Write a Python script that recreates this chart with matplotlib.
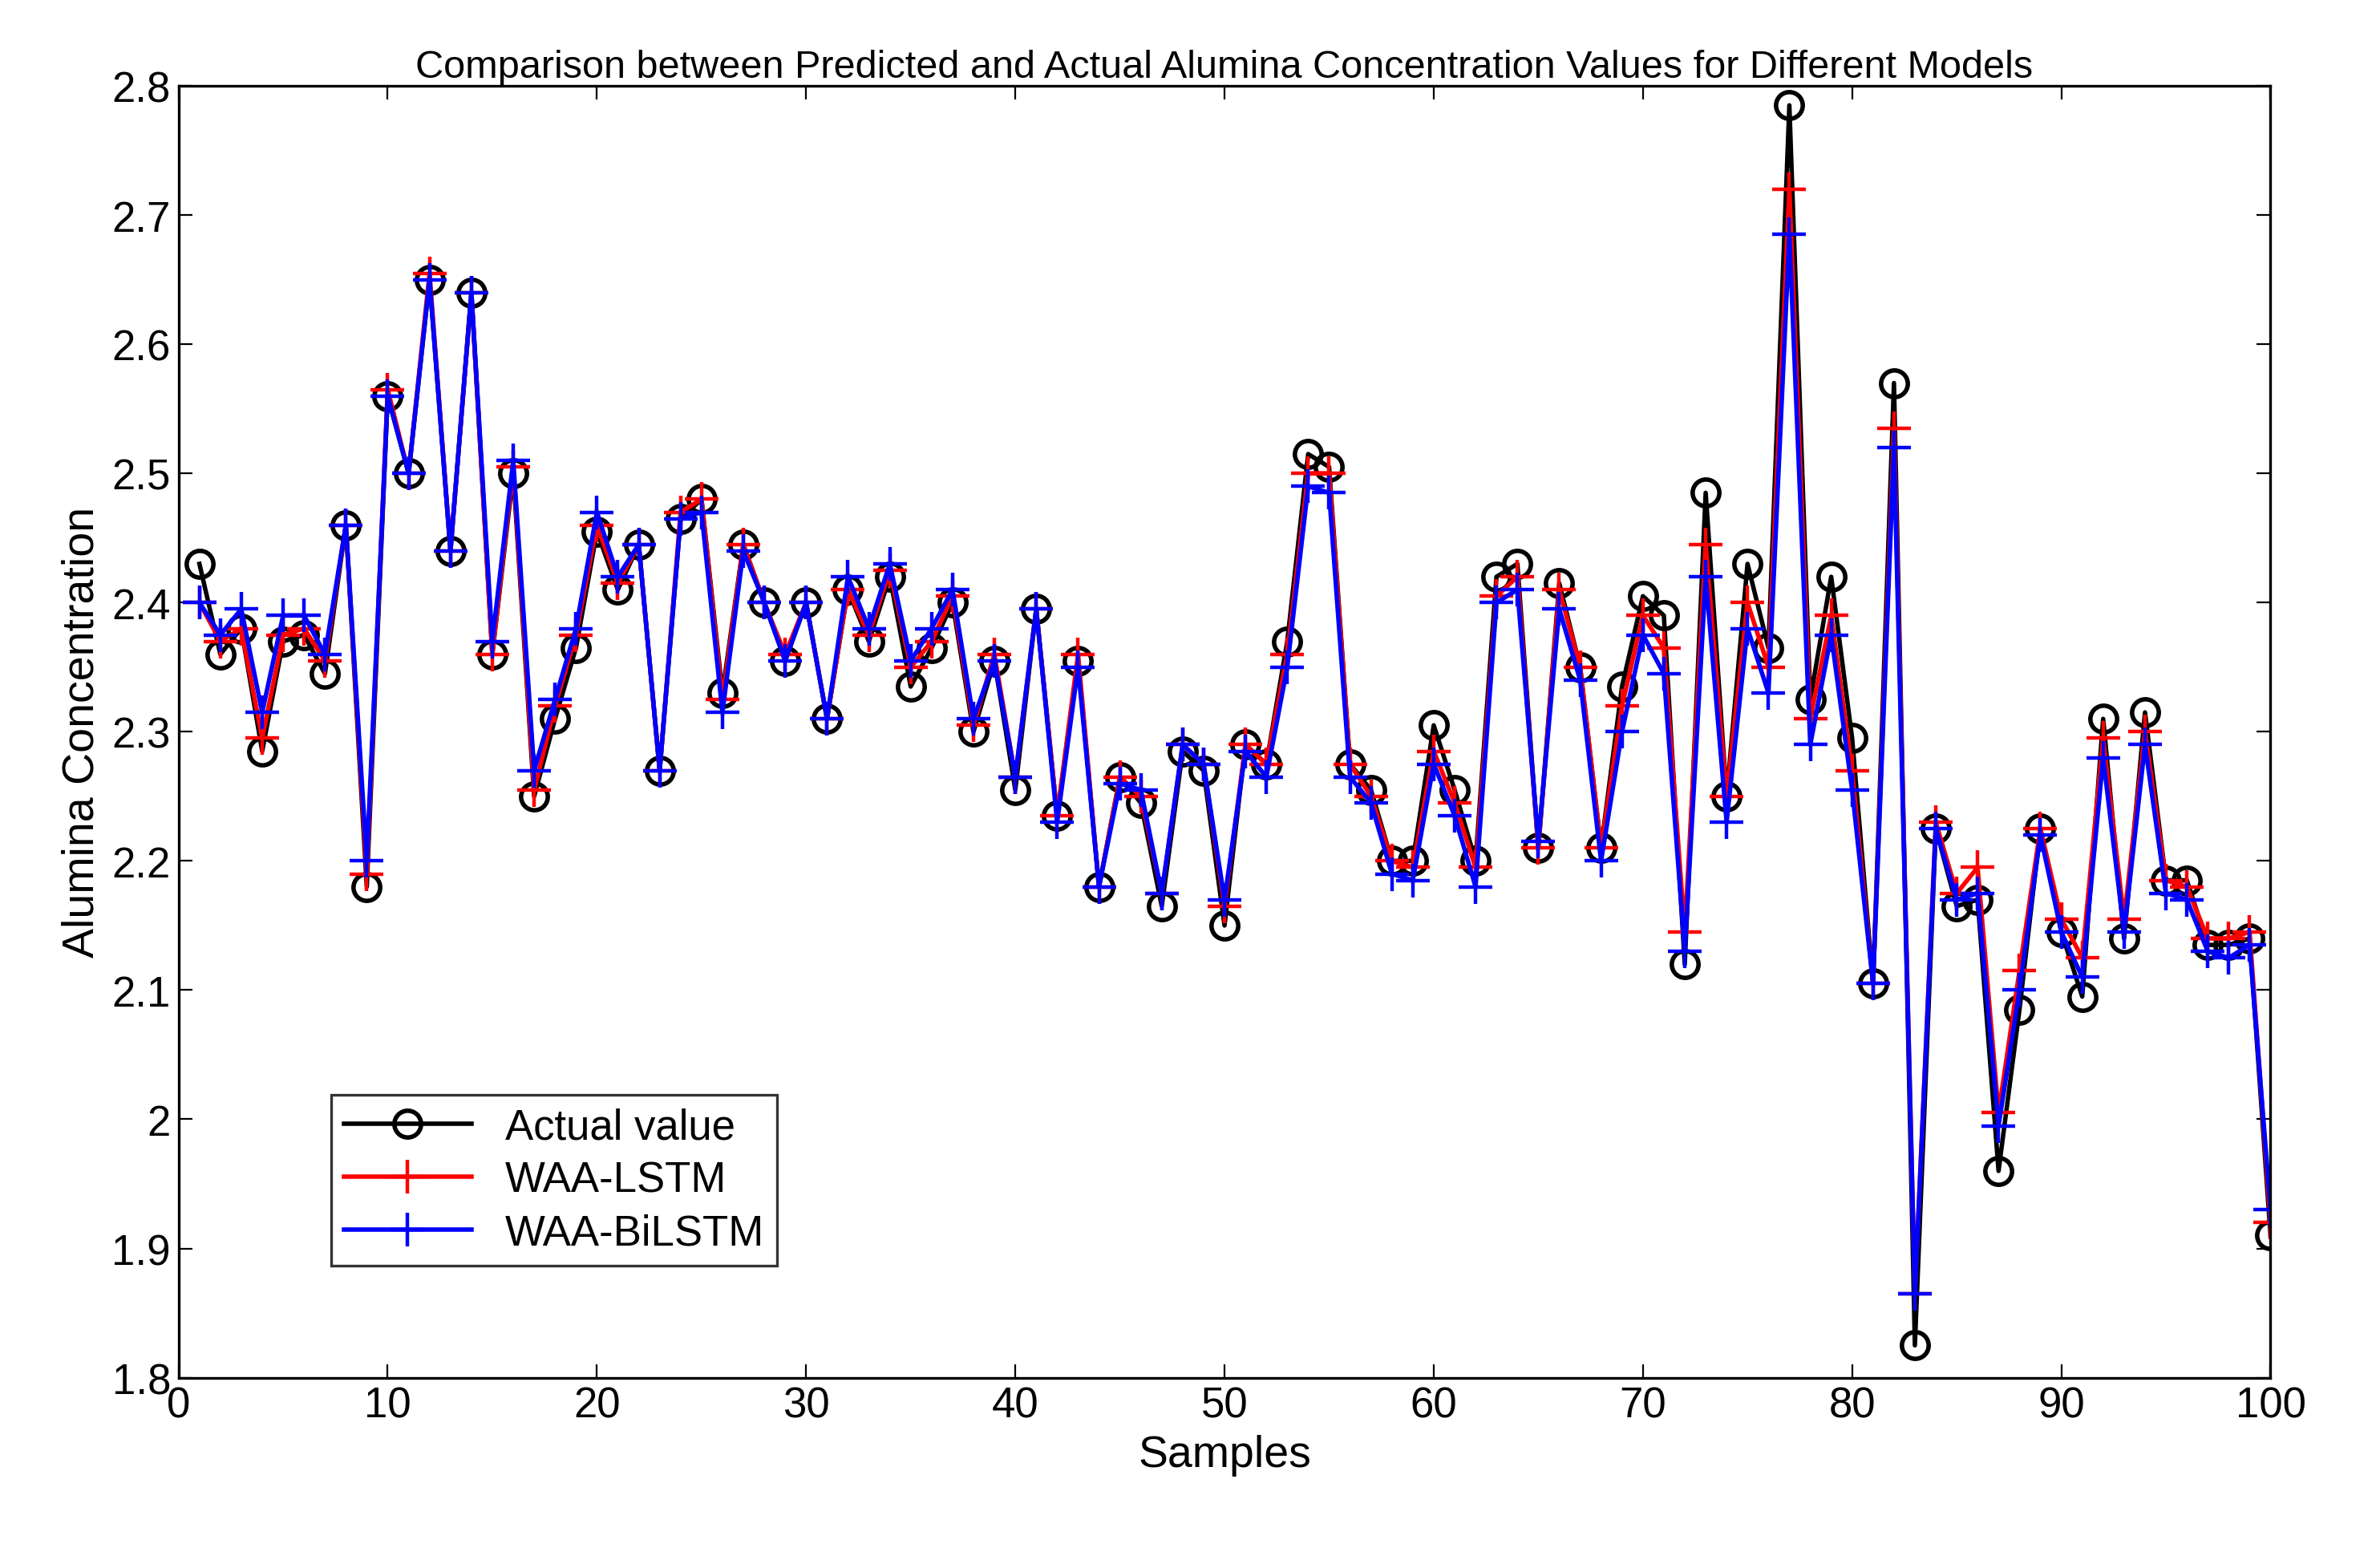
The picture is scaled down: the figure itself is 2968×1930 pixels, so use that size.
import matplotlib
matplotlib.use("Agg")
import matplotlib.pyplot as plt
import numpy as np

plt.rcParams["font.family"] = "Liberation Sans"

# 样本编号
samples = np.arange(1, 101)

# 实际值
actual = [2.43, 2.36, 2.38, 2.285, 2.37, 2.375, 2.345, 2.46, 2.18, 2.56,
          2.50, 2.65, 2.44, 2.64, 2.36, 2.50, 2.25, 2.31, 2.365, 2.455,
          2.41, 2.445, 2.27, 2.465, 2.48, 2.33, 2.445, 2.40, 2.355, 2.40,
          2.31, 2.41, 2.37, 2.42, 2.335, 2.365, 2.40, 2.30, 2.355, 2.255,
          2.395, 2.235, 2.355, 2.18, 2.265, 2.245, 2.165, 2.285, 2.27, 2.15,
          2.29, 2.275, 2.37, 2.515, 2.505, 2.275, 2.255, 2.20, 2.20, 2.305,
          2.255, 2.20, 2.42, 2.43, 2.21, 2.415, 2.35, 2.21, 2.335, 2.405,
          2.39, 2.12, 2.485, 2.25, 2.43, 2.365, 2.785, 2.325, 2.42, 2.295,
          2.105, 2.57, 1.825, 2.225, 2.165, 2.17, 1.96, 2.085, 2.225, 2.145,
          2.095, 2.31, 2.14, 2.315, 2.185, 2.185, 2.135, 2.135, 2.14, 1.91]

# WAA-LSTM 预测值
lstm = [2.40, 2.37, 2.38, 2.295, 2.375, 2.38, 2.355, 2.46, 2.19, 2.565,
        2.50, 2.655, 2.44, 2.64, 2.36, 2.505, 2.255, 2.32, 2.375, 2.46,
        2.415, 2.445, 2.27, 2.47, 2.48, 2.325, 2.445, 2.40, 2.36, 2.40,
        2.31, 2.41, 2.375, 2.425, 2.35, 2.37, 2.405, 2.305, 2.36, 2.265,
        2.395, 2.235, 2.36, 2.18, 2.265, 2.25, 2.175, 2.29, 2.275, 2.165,
        2.29, 2.275, 2.36, 2.50, 2.50, 2.275, 2.25, 2.20, 2.195, 2.285,
        2.245, 2.195, 2.405, 2.42, 2.21, 2.41, 2.35, 2.21, 2.32, 2.39,
        2.365, 2.145, 2.445, 2.25, 2.40, 2.35, 2.72, 2.31, 2.39, 2.27,
        2.105, 2.535, 1.865, 2.23, 2.175, 2.195, 2.005, 2.115, 2.225, 2.155,
        2.125, 2.295, 2.155, 2.30, 2.185, 2.18, 2.14, 2.14, 2.145, 1.92]

# WAA-BiLSTM 预测值
bilstm = [2.40, 2.375, 2.395, 2.315, 2.39, 2.39, 2.36, 2.46, 2.20, 2.56,
          2.50, 2.65, 2.44, 2.64, 2.37, 2.51, 2.27, 2.325, 2.38, 2.47,
          2.42, 2.445, 2.27, 2.465, 2.47, 2.315, 2.44, 2.40, 2.355, 2.40,
          2.31, 2.42, 2.38, 2.43, 2.355, 2.38, 2.41, 2.31, 2.355, 2.265,
          2.395, 2.23, 2.35, 2.18, 2.26, 2.255, 2.175, 2.29, 2.275, 2.17,
          2.285, 2.265, 2.35, 2.49, 2.485, 2.265, 2.245, 2.19, 2.185, 2.275,
          2.235, 2.18, 2.40, 2.41, 2.215, 2.395, 2.34, 2.20, 2.30, 2.375,
          2.345, 2.13, 2.42, 2.23, 2.38, 2.33, 2.685, 2.29, 2.375, 2.255,
          2.105, 2.52, 1.865, 2.225, 2.17, 2.175, 1.995, 2.10, 2.22, 2.145,
          2.11, 2.28, 2.145, 2.29, 2.175, 2.17, 2.13, 2.125, 2.135, 1.93]

fig = plt.figure(figsize=(14.84, 9.655), dpi=200)
ax = fig.add_axes([0.075, 0.110, 0.879, 0.834])

ax.plot(samples, actual, color="black", lw=2, marker="o", ms=12,
        mfc="none", mew=2, label="Actual value")
ax.plot(samples, lstm, color="red", lw=2, marker="+", ms=15, mew=1.6,
        label="WAA-LSTM")
ax.plot(samples, bilstm, color="blue", lw=2, marker="+", ms=15, mew=1.6,
        label="WAA-BiLSTM")

ax.set_xlim(0, 100)
ax.set_ylim(1.8, 2.8)
ax.set_xticks(np.arange(0, 101, 10))
ax.set_yticks(np.arange(1.8, 2.81, 0.1))
ax.set_yticklabels(["1.8", "1.9", "2", "2.1", "2.2", "2.3", "2.4", "2.5",
                    "2.6", "2.7", "2.8"])
ax.tick_params(direction="in", labelsize=19, top=True, right=True, length=6)
for s in ax.spines.values():
    s.set_linewidth(1.2)

ax.set_xlabel("Samples", fontsize=20, labelpad=4)
ax.set_ylabel("Alumina Concentration", fontsize=20)
ax.set_title("Comparison between Predicted and Actual Alumina Concentration Values for Different Models",
             fontsize=17.5, pad=4)

leg = ax.legend(loc="lower left", bbox_to_anchor=(0.063, 0.07), fontsize=19,
                fancybox=False, edgecolor="black", handlelength=3,
                borderpad=0.3, labelspacing=0.3)
leg.get_frame().set_linewidth(1.2)

fig.savefig("out.png")
